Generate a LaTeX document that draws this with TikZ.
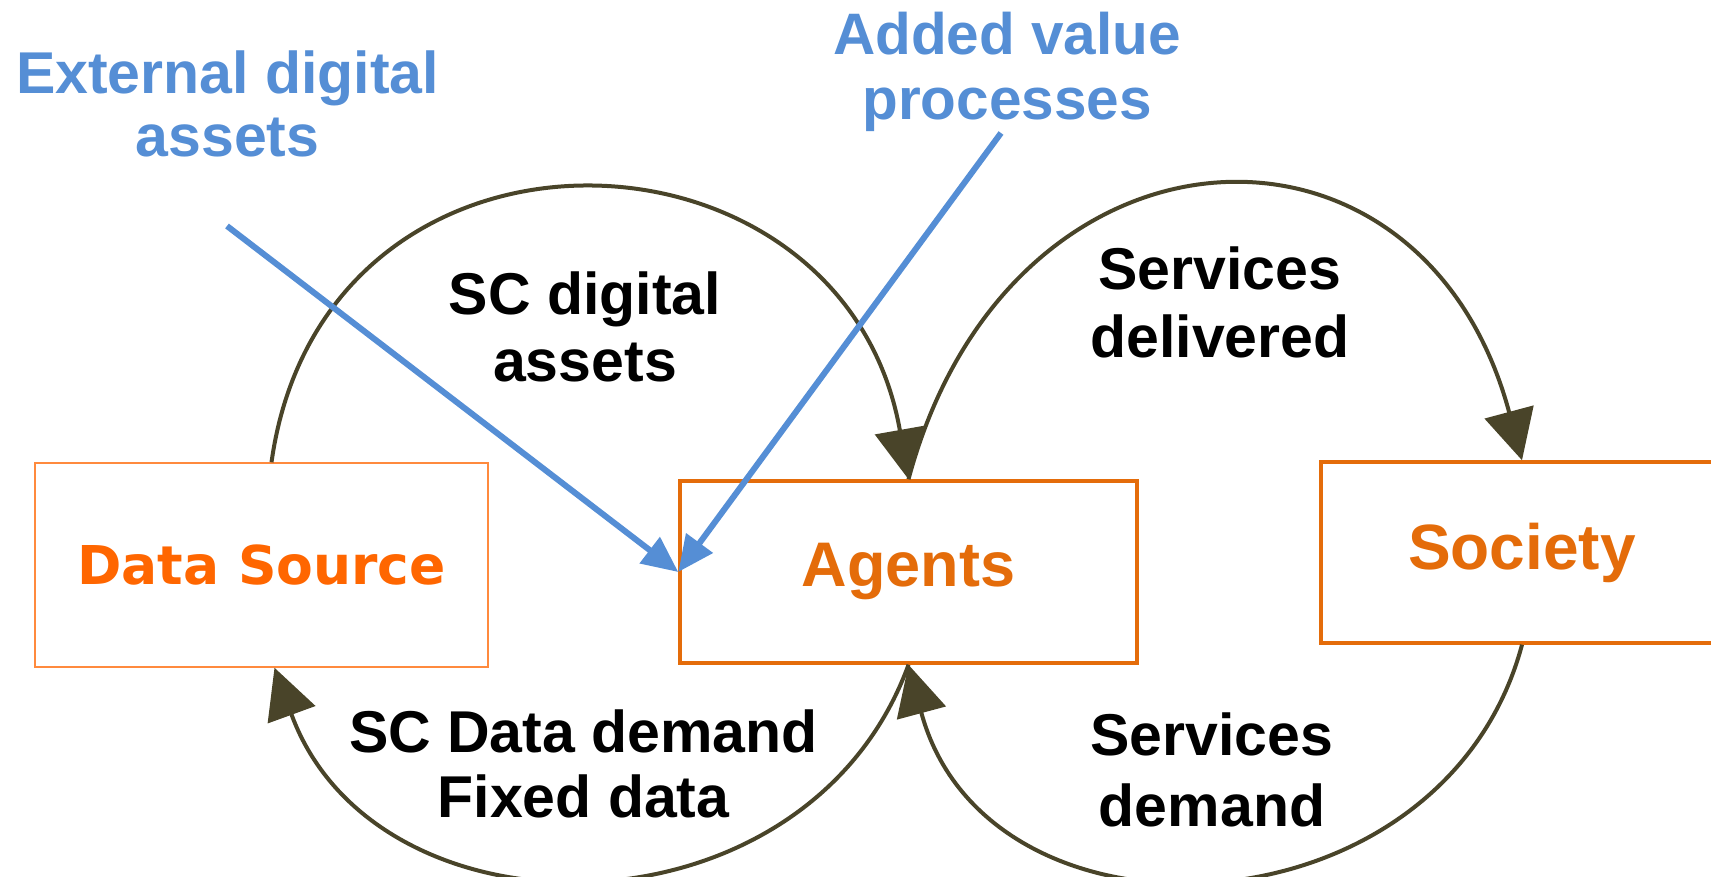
\documentclass[tikz,border=0pt]{standalone}
\usepackage{fontspec}
\setmainfont{Liberation Sans}
\newfontfamily\dvsans{DejaVu Sans}
\usetikzlibrary{arrows.meta}
\definecolor{dsorange}{HTML}{FF6600}
\definecolor{dsline}{HTML}{FF8A3D}
\definecolor{agorange}{HTML}{E46C0A}
\definecolor{olivedark}{HTML}{494429}
\definecolor{skyblue}{HTML}{558ED5}
\begin{document}
\begin{tikzpicture}[x=1pt,y=1pt,
  box/.style={draw, fill=white, inner sep=0pt, align=center},
  lbl/.style={align=center, text=black},
  bluelbl/.style={align=center, text=skyblue},
  flow/.style={draw=olivedark, line width=4pt, -{Triangle[length=50pt,width=50pt]}},
  feed/.style={draw=skyblue, line width=6pt, -{Triangle[length=36pt,width=32pt]}}]
\useasboundingbox (0,0) rectangle (1711,-877);

% boxes
\node[box, draw=dsline, line width=1.5pt, minimum width=453pt, minimum height=204pt,
      text=dsorange, font=\dvsans\fontsize{53.5}{60}\selectfont\bfseries]
      (ds) at (261.5,-565) {Data Source};
\node[box, draw=agorange, line width=3.5pt, minimum width=457pt, minimum height=182pt,
      text=agorange, font=\fontsize{63}{70}\selectfont\bfseries]
      (ag) at (908.5,-572) {\raisebox{-2pt}{Agents}};
\node[box, draw=agorange, line width=3.5pt, minimum width=402pt, minimum height=181pt,
      text=agorange, font=\fontsize{64}{70}\selectfont\bfseries]
      (so) at (1522,-552.5) {\raisebox{-5pt}{Society}};

% labels
\node[lbl, font=\fontsize{59}{67}\selectfont\bfseries] (l1) at (585,-327.4) {SC digital\\assets};
\node[lbl, font=\fontsize{59}{68}\selectfont\bfseries] (l2) at (1220,-302.9) {Services\\delivered};
\node[lbl, font=\fontsize{59}{65}\selectfont\bfseries] (l3) at (583.5,-764.4) {SC Data demand\\Fixed data};
\node[lbl, font=\fontsize{59}{71}\selectfont\bfseries] (l4) at (1212,-770) {Services\\demand};
\node[bluelbl, font=\fontsize{59}{63}\selectfont\bfseries] (b1) at (227.5,-104) {External digital\\assets};
\node[bluelbl, font=\fontsize{58.5}{65}\selectfont\bfseries] (b2) at (1007,-72) {Added value\\processes};

% loops
\draw[flow] ([xshift=10pt]ds.north) .. controls +(82:377) and +(100:377) .. (ag.north);
\draw[flow] (ag.north) .. controls +(75:388) and +(105:388) .. (so.north);
\draw[flow] (so.south) .. controls +(-105:306) and +(-75:306) .. (ag.south);
\draw[flow] (ag.south) .. controls +(-110:298) and +(-70:298) .. ([xshift=13pt]ds.south);

% external inputs
\coordinate (e1) at (227,-226);
\coordinate (e2) at (1001,-133);
\draw[feed] (e1) -- (ag.west);
\draw[feed] (e2) -- (ag.west);
\end{tikzpicture}
\end{document}
